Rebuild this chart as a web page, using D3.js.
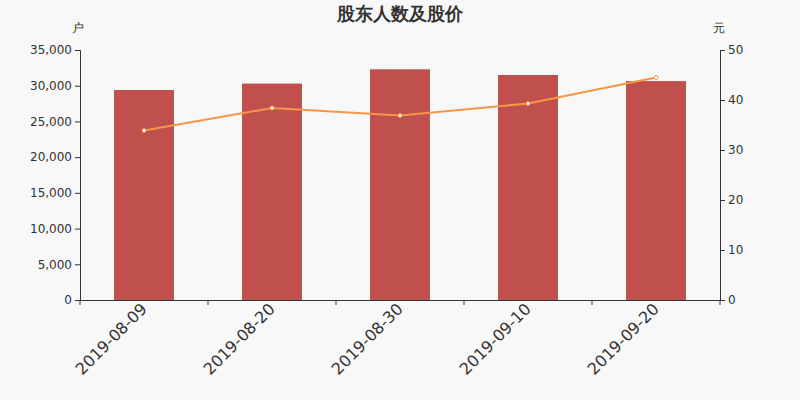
<!DOCTYPE html>
<html>
<head>
<meta charset="utf-8">
<script src="https://cdn.jsdelivr.net/npm/d3@7"></script>
<style>
  body { margin: 0; background: #f8f8f8; }
  text { font-family: "DejaVu Sans", sans-serif; fill: #333; }
</style>
</head>
<body>
<div id="chart"></div>
<script>
// 数据
const dates = ['2019-08-09', '2019-08-20', '2019-08-30', '2019-09-10', '2019-09-20'];
const holders = [29400, 30300, 32300, 31500, 30650];
const prices = [33.9, 38.4, 36.9, 39.3, 44.5];
const leftTicks = [0, 5000, 10000, 15000, 20000, 25000, 30000, 35000];
const rightTicks = [0, 10, 20, 30, 40, 50];

const width = 800, height = 400;
const margin = { top: 50, right: 80, bottom: 100, left: 80 };

const svg = d3.select('#chart')
    .append('svg')
    .attr('width', width)
    .attr('height', height);

svg.append('rect')
    .attr('width', width)
    .attr('height', height)
    .attr('fill', '#f8f8f8');

const x = d3.scaleBand()
    .domain(dates)
    .range([margin.left, width - margin.right]);

const yLeft = d3.scaleLinear()
    .domain([0, 35000])
    .range([height - margin.bottom, margin.top]);

const yRight = d3.scaleLinear()
    .domain([0, 50])
    .range([height - margin.bottom, margin.top]);

// 标题
svg.append('text')
    .attr('x', width / 2)
    .attr('y', 20)
    .attr('text-anchor', 'middle')
    .style('font-size', '18px')
    .style('font-weight', 'bold')
    .text('股东人数及股价');

// 单位
svg.append('text')
    .attr('x', 78).attr('y', 32)
    .attr('text-anchor', 'middle')
    .style('font-size', '12px')
    .text('户');
svg.append('text')
    .attr('x', 719).attr('y', 32)
    .attr('text-anchor', 'middle')
    .style('font-size', '12px')
    .text('元');

// 柱子
const barW = 60;
svg.append('g')
    .selectAll('rect')
    .data(dates)
    .join('rect')
    .attr('x', (d) => x(d) + x.bandwidth() / 2 - barW / 2)
    .attr('y', (d, i) => yLeft(holders[i]))
    .attr('width', barW)
    .attr('height', (d, i) => yLeft(0) - yLeft(holders[i]))
    .attr('fill', '#c0504d');

// 坐标轴
const axisStyle = g => {
    g.selectAll('path, line').attr('stroke', '#333');
    g.selectAll('text').style('font-size', '12px').attr('fill', '#333');
};

svg.append('g')
    .attr('transform', `translate(${margin.left},0)`)
    .call(d3.axisLeft(yLeft).tickValues(leftTicks).tickSizeOuter(0).tickSize(5).tickFormat(d3.format(',')))
    .call(axisStyle);

svg.append('g')
    .attr('transform', `translate(${width - margin.right},0)`)
    .call(d3.axisRight(yRight).tickValues(rightTicks).tickSizeOuter(0).tickSize(5))
    .call(axisStyle);

const xAxis = svg.append('g')
    .attr('transform', `translate(0,${height - margin.bottom})`)
    .call(d3.axisBottom(x).tickSize(0).tickSizeOuter(0));
xAxis.select('.domain').attr('stroke', '#333');
xAxis.selectAll('text')
    .style('font-size', '16px')
    .attr('fill', '#333')
    .attr('text-anchor', 'end')
    .attr('dy', null)
    .attr('y', 0)
    .attr('transform', 'translate(4,10) rotate(-45)');

// 分隔刻度
const boundaries = dates.map(d => x(d)).concat([x.range()[1]]);
xAxis.selectAll('.sep')
    .data(boundaries)
    .join('line')
    .attr('class', 'sep')
    .attr('x1', d => d).attr('x2', d => d)
    .attr('y1', 0).attr('y2', 5)
    .attr('stroke', '#333');

// 股价折线
const line = d3.line()
    .x((d, i) => x(dates[i]) + x.bandwidth() / 2)
    .y(d => yRight(d));

svg.append('path')
    .datum(prices)
    .attr('d', line)
    .attr('fill', 'none')
    .attr('stroke', '#f79646')
    .attr('stroke-width', 2);

svg.append('g')
    .selectAll('circle')
    .data(prices)
    .join('circle')
    .attr('cx', (d, i) => x(dates[i]) + x.bandwidth() / 2)
    .attr('cy', d => yRight(d))
    .attr('r', 2)
    .attr('fill', '#fff')
    .attr('stroke', '#f79646')
    .attr('stroke-width', 1);
</script>
</body>
</html>
